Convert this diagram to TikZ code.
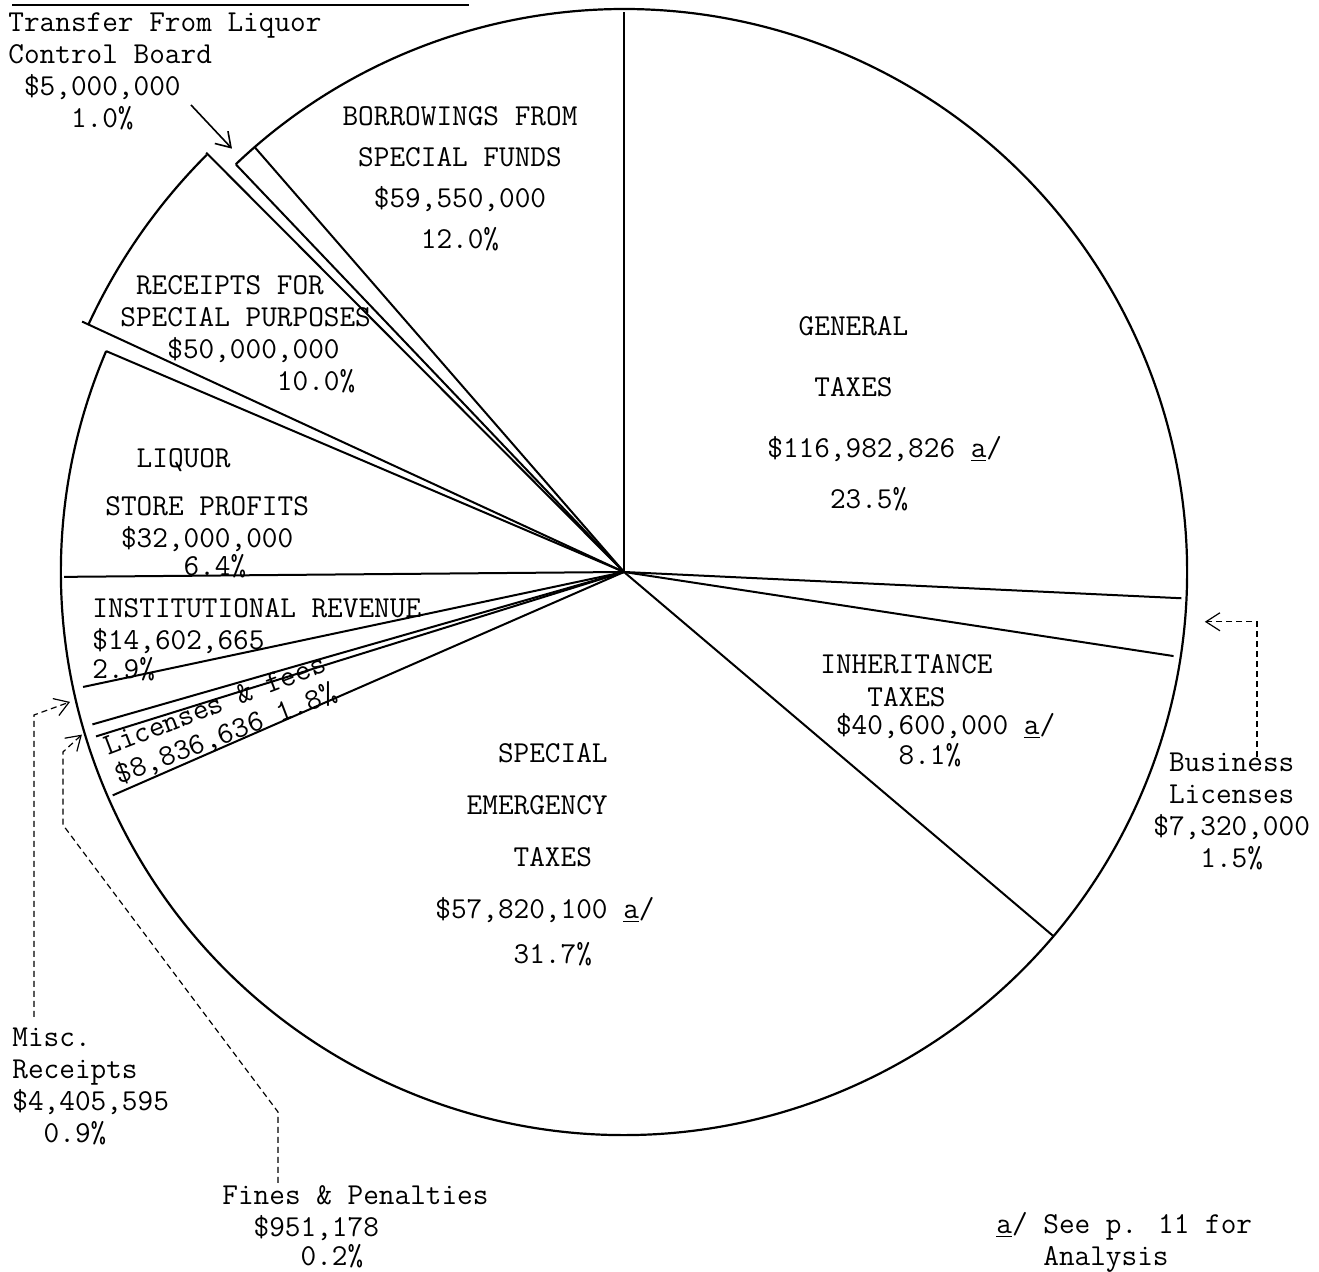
\documentclass[tikz,border=0pt]{standalone}
\usetikzlibrary{arrows.meta}

\newcommand\tw[1]{\fontsize{15.2}{#1}\selectfont\ttfamily}
\newcommand\pad[1]{\makebox[#1\fontcharwd\font`0]{}}
\newcommand\anote{\underline{a}/}

\begin{document}
\begin{tikzpicture}[x=0.5pt, y=0.5pt,
        rim/.style={line width=1.1pt},
        wedge/.style={line width=1pt},
        leader/.style={line width=0.6pt, densely dashed},
        barb/.style={-{Straight Barb[length=7pt,width=9pt]}},
        lbl/.style={inner sep=0pt, align=left, anchor=north west, font=\tw{16pt}}
        ]
        \useasboundingbox (0,0) rectangle (1319,1272);
        \coordinate (c) at (624,700);
        \begin{scope}[shift={(c)}]
          \coordinate (trtip) at (132.8:577);
          \coordinate (biztip) at (355.1:583);
          \coordinate (misctip) at (193.2:569);
          \coordinate (finestip) at (196.7:566);
        \end{scope}

        % rims
        \draw [rim] (c) ++(156.9:563) arc[start angle=156.9, end angle=493.6, radius=563];
        \draw [rim] (c) ++(135:590) arc[start angle=135, end angle=155.2, radius=590];
        % slice edges
        \foreach \a/\r in {90/560, 131/563, 133.6/563, 134.9/592, 155.2/597,
                           156.9/563, 180.5/560, 192/553, 196/553, 197.3/553,
                           203.6/558, 319.7/563, 351.3/556, 357.3/558}
          \draw [wedge] (c) -- ++(\a:\r);

        \draw [line width=1pt] (12,1267) -- (469,1267);

        % labels
        \node [lbl] (transfer) at (8,1260) {Transfer From Liquor\\Control Board\\\pad{1}\$5,000,000\\\pad{4}1.0\%};
        \node [lbl, align=center, anchor=center, font=\tw{20.5pt}] (borrow) at (460,1093)
              {BORROWINGS FROM\\SPECIAL FUNDS\\\$59,550,000\\12.0\%};
        \node [lbl] (receipts) at (120,997) {\pad{1}RECEIPTS FOR\\SPECIAL PURPOSES\\\pad{3}\$50,000,000\\\pad{10}10.0\%};
        \node [lbl] (liquor) at (105,824) {\pad{2}LIQUOR\\[8pt]STORE PROFITS\\\pad{1}\$32,000,000\\[-2pt]\pad{5}6.4\%};
        \node [lbl] (instit) at (92,674) {INSTITUTIONAL REVENUE\\\$14,602,665\\[-1.5pt]2.9\%};
        \node [lbl, anchor=center, rotate=21, font=\tw{15.5pt}] (licfees) at (221,551)
              {Licenses \& fees\\\$8,836,636 1.8\%};
        \node [lbl, font=\tw{30.5pt}] (general) at (767,956)
              {\pad{2}GENERAL\\\pad{3}TAXES\\\$116,982,826 \anote\\[-5pt]\pad{4}23.5\%};
        \node [lbl] (inherit) at (820,618)
              {INHERITANCE\\[0.5pt]\pad{3}TAXES\\[-2pt]\pad{1}\$40,600,000 \anote\\[-1pt]\pad{5}8.1\%};
        \node [lbl, font=\tw{26pt}] (special) at (435,529)
              {\pad{4}SPECIAL\\\pad{2}EMERGENCY\\\pad{5}TAXES\\\$57,820,100 \anote\\[-3.5pt]\pad{5}31.7\%};
        \node [lbl] (business) at (1153,519) {\pad{1}Business\\\pad{1}Licenses\\\$7,320,000\\\pad{3}1.5\%};
        \node [lbl] (misc) at (12,244) {Misc.\\Receipts\\\$4,405,595\\\pad{2}0.9\%};
        \node [lbl] (fines) at (222,87) {Fines \& Penalties\\\pad{2}\$951,178\\[-1.5pt]\pad{5}0.2\%};
        \node [lbl] (note) at (996,60) {\anote{} See p. 11 for\\\pad{3}Analysis};

        % leaders
        \coordinate (trtail) at (191,1167);
        \coordinate (bizfoot) at (1257,515);
        \coordinate (miscfoot) at (34,255);
        \coordinate (finesfoot) at (278,89);
        \draw [barb, line width=0.8pt] (trtail) -- (trtip);
        \draw [leader, barb] (bizfoot) |- (biztip);
        \draw [leader, barb] (miscfoot) -- (34,557) -- (misctip);
        \draw [leader, barb] (finesfoot) -- (278,160) -- (63,447) -- (63,520) -- (finestip);
\end{tikzpicture}
\end{document}
